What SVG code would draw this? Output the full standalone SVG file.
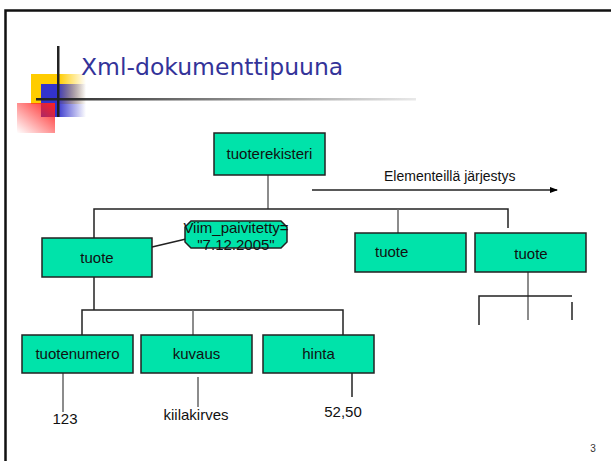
<svg xmlns="http://www.w3.org/2000/svg" width="611" height="461" viewBox="0 0 611 461">
<defs>
<linearGradient id="gy" x1="0" y1="0" x2="1" y2="0"><stop offset="0.5" stop-color="#FFCC00"/><stop offset="1" stop-color="#FFCC00" stop-opacity="0"/></linearGradient>
<linearGradient id="gb" x1="0" y1="0" x2="1" y2="0"><stop offset="0.35" stop-color="#3333CC"/><stop offset="1" stop-color="#3333CC" stop-opacity="0"/></linearGradient>
<linearGradient id="gr" x1="1" y1="0" x2="0" y2="1"><stop offset="0" stop-color="#FF2020"/><stop offset="1" stop-color="#FF2020" stop-opacity="0"/></linearGradient>
<linearGradient id="gl" x1="0" y1="0" x2="1" y2="0"><stop offset="0" stop-color="#222"/><stop offset="1" stop-color="#222" stop-opacity="0.1"/></linearGradient>
<marker id="ah" markerWidth="8" markerHeight="6" refX="7" refY="3" orient="auto" markerUnits="userSpaceOnUse"><path d="M0,0 L8,3 L0,6 z" fill="#000"/></marker>
</defs>
<style>
.n{fill:#00E3AA;stroke:#222;stroke-width:1.5}
.t{font-family:"Liberation Sans",Arial,sans-serif;font-size:15px;fill:#111;text-anchor:middle}
.s{font-family:"Liberation Sans",Arial,sans-serif;font-size:14px;fill:#111}
.c{fill:none;stroke:#222;stroke-width:1.5}
.g{fill:none;stroke:#666;stroke-width:1.5}
</style>
<rect width="611" height="461" fill="#fff"/>
<path d="M5.5,461 V10.5 H611" fill="none" stroke="#111" stroke-width="2.5"/>
<g id="decor">
<rect x="31" y="74" width="55" height="30" fill="url(#gy)"/>
<rect x="41" y="84" width="45" height="33" fill="url(#gb)"/>
<rect x="17" y="103" width="38" height="30" fill="url(#gr)"/>
<rect x="57" y="46" width="2.5" height="71" fill="#222"/>
<rect x="36" y="98" width="380" height="2.5" fill="url(#gl)"/>
</g>
<text x="81" y="75" font-family="DejaVu Sans,Verdana,sans-serif" font-size="23.5" fill="#333399">Xml-dokumenttipuuna</text>
<g id="connectors">
<path class="g" d="M268,175 V209"/>
<path class="c" d="M94,238 V209 H508 V228"/>
<path class="g" d="M398,209 V238"/>
<path class="c" d="M312,190 H557" marker-end="url(#ah)"/>
<path class="c" d="M152,247 L186,239"/>
<path class="c" d="M94,277 V310"/>
<path class="c" d="M82,335 V310 H343 V335"/>
<path class="g" d="M193,310 V335"/>
<path class="g" d="M63,373 V412"/>
<path class="g" d="M198,377 V407"/>
<path class="c" d="M352,373 V397"/>
<path class="g" d="M528,272 V320"/>
<path class="c" d="M479,325 V296 H572"/>
<path class="c" d="M572,302 V320"/>
</g>
<text class="s" x="384" y="181">Elementeillä järjestys</text>
<g id="tuoterekisteri"><rect class="n" x="214" y="133" width="111" height="42"/><text class="t" x="269.5" y="159">tuoterekisteri</text></g>
<g id="tuote1"><rect class="n" x="42" y="238" width="110" height="39"/><text class="t" x="97" y="263">tuote</text></g>
<g id="attr"><path class="n" d="M191,221 H281 L287,227 V242 L281,248 H191 L185,242 V227 Z"/><text class="t" x="236" y="233" font-size="14">Viim_paivitetty=</text><text class="t" x="236" y="250" font-size="14">"7.12.2005"</text></g>
<g id="tuote2"><rect class="n" x="355" y="233" width="111" height="39"/><text class="t" x="375" y="257" text-anchor="start" style="text-anchor:start">tuote</text></g>
<g id="tuote3"><rect class="n" x="475" y="233" width="111" height="39"/><text class="t" x="531" y="259">tuote</text></g>
<g id="tuotenumero"><rect class="n" x="22" y="335" width="111" height="38"/><text class="t" x="77.5" y="359">tuotenumero</text></g>
<g id="kuvaus"><rect class="n" x="141" y="335" width="111" height="38"/><text class="t" x="196.5" y="359">kuvaus</text></g>
<g id="hinta"><rect class="n" x="263" y="335" width="111" height="38"/><text class="t" x="318.5" y="359">hinta</text></g>
<g id="v123"><text class="t" x="65" y="424" font-size="14">123</text></g>
<g id="vkiila"><text class="t" x="196" y="420" font-size="14">kiilakirves</text></g>
<g id="v5250"><text class="t" x="343" y="417" font-size="14">52,50</text></g>
<text x="593" y="452" font-family="Liberation Sans,Arial,sans-serif" font-size="10" fill="#333" text-anchor="middle">3</text>
</svg>
